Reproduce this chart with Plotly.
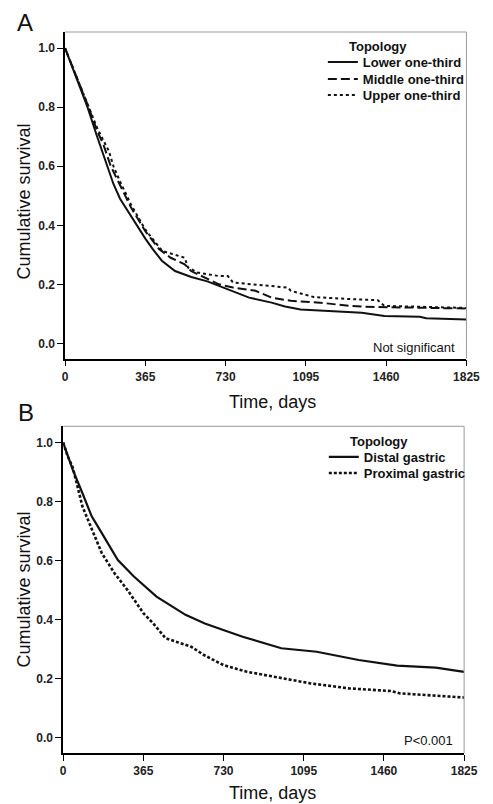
import plotly.graph_objects as go

# ---------------- data ----------------
x_ticks = [0, 365, 730, 1095, 1460, 1825]
y_ticks = [0.0, 0.2, 0.4, 0.6, 0.8, 1.0]
y_tick_labels = ["0.0", "0.2", "0.4", "0.6", "0.8", "1.0"]

# Panel A
a_lower_days = [0, 30, 73, 102, 146, 190, 220, 250, 300, 332, 365, 398, 440, 500, 574, 647, 700, 764, 837, 939, 1000, 1071, 1218, 1349, 1452, 1613, 1642, 1825]
a_lower_surv = [1.0, 0.94, 0.855, 0.80, 0.70, 0.60, 0.54, 0.49, 0.43, 0.39, 0.355, 0.32, 0.28, 0.245, 0.225, 0.21, 0.195, 0.178, 0.155, 0.138, 0.125, 0.115, 0.11, 0.104, 0.093, 0.09, 0.085, 0.081]

a_middle_days = [0, 30, 73, 102, 146, 176, 208, 249, 300, 365, 427, 480, 544, 573, 632, 700, 764, 866, 939, 1027, 1159, 1291, 1364, 1452, 1600, 1825]
a_middle_surv = [1.0, 0.945, 0.865, 0.81, 0.72, 0.67, 0.60, 0.54, 0.46, 0.38, 0.32, 0.29, 0.268, 0.245, 0.223, 0.20, 0.189, 0.178, 0.155, 0.144, 0.138, 0.127, 0.124, 0.123, 0.121, 0.118]

a_upper_days = [0, 30, 73, 102, 146, 176, 200, 220, 249, 300, 365, 442, 500, 544, 559, 603, 700, 740, 764, 900, 1013, 1027, 1130, 1300, 1422, 1452, 1600, 1825]
a_upper_surv = [1.0, 0.945, 0.87, 0.815, 0.73, 0.685, 0.65, 0.60, 0.55, 0.47, 0.385, 0.313, 0.30, 0.29, 0.257, 0.24, 0.228, 0.228, 0.206, 0.196, 0.189, 0.178, 0.157, 0.15, 0.146, 0.127, 0.125, 0.12]

# Panel B
b_distal_days = [0, 20, 44, 88, 130, 176, 249, 322, 425, 557, 645, 729, 817, 993, 1154, 1345, 1520, 1696, 1825]
b_distal_surv = [1.0, 0.96, 0.907, 0.828, 0.75, 0.693, 0.602, 0.546, 0.478, 0.416, 0.387, 0.365, 0.342, 0.303, 0.291, 0.263, 0.244, 0.237, 0.223]

b_proximal_days = [0, 20, 44, 66, 88, 132, 176, 234, 293, 366, 410, 466, 583, 641, 729, 832, 963, 1125, 1301, 1491, 1535, 1825]
b_proximal_surv = [1.0, 0.955, 0.915, 0.851, 0.783, 0.704, 0.625, 0.557, 0.50, 0.421, 0.387, 0.337, 0.308, 0.28, 0.246, 0.224, 0.207, 0.184, 0.167, 0.158, 0.15, 0.136]

# ---------------- figure ----------------
FONT = "Liberation Sans, Arial, Helvetica, sans-serif"
INK = "#111111"
W, H = 493, 804

def px_x(p):
    return p / W

def px_y(p):
    return (H - p) / H

fig = go.Figure()

fig.add_trace(go.Scatter(x=a_lower_days, y=a_lower_surv, mode="lines", name="Lower one-third",
                         line=dict(color=INK, width=2), xaxis="x", yaxis="y", legend="legend"))
fig.add_trace(go.Scatter(x=a_middle_days, y=a_middle_surv, mode="lines", name="Middle one-third",
                         line=dict(color=INK, width=2, dash="9px,4px"), xaxis="x", yaxis="y", legend="legend2"))
fig.add_trace(go.Scatter(x=a_upper_days, y=a_upper_surv, mode="lines", name="Upper one-third",
                         line=dict(color=INK, width=2, dash="3px,3px"), xaxis="x", yaxis="y", legend="legend3"))

fig.add_trace(go.Scatter(x=b_distal_days, y=b_distal_surv, mode="lines", name="Distal gastric",
                         line=dict(color=INK, width=2.2), xaxis="x2", yaxis="y2", legend="legend4"))
fig.add_trace(go.Scatter(x=b_proximal_days, y=b_proximal_surv, mode="lines", name="Proximal gastric",
                         line=dict(color=INK, width=2.6, dash="3px,2px"), xaxis="x2", yaxis="y2", legend="legend5"))

tickfont = dict(family=FONT, size=12, color="#222222", weight="bold")

def xaxis_cfg(domain, anchor):
    return dict(domain=domain, anchor=anchor, range=[0, 1825], tickvals=x_ticks,
                ticks="outside", ticklen=6, tickwidth=1, tickcolor="#000",
                showline=True, linecolor="#000", linewidth=1.5, showgrid=False,
                zeroline=False, tickfont=tickfont, fixedrange=True)

def yaxis_cfg(domain, anchor):
    return dict(domain=domain, anchor=anchor, range=[-0.052, 1.055], tickvals=y_ticks,
                ticktext=y_tick_labels, ticks="outside", ticklen=6, tickwidth=1,
                tickcolor="#000", showline=True, linecolor="#000", linewidth=1.5,
                showgrid=False, zeroline=False, tickfont=tickfont, fixedrange=True)

legend_font = dict(family=FONT, size=13, color=INK, weight="bold")

def legend_at(left_px, center_px):
    # first legend item centre sits ~15 px below the legend's top edge
    return dict(x=px_x(left_px), xanchor="left", y=px_y(center_px - 15), yanchor="top",
                bgcolor="rgba(0,0,0,0)", font=legend_font, itemwidth=30,
                tracegroupgap=0)

fig.update_layout(
    width=W, height=H,
    margin=dict(l=0, r=0, t=0, b=0),
    paper_bgcolor="white", plot_bgcolor="white",
    xaxis=xaxis_cfg([px_x(56), px_x(471.7)], "y"),
    yaxis=yaxis_cfg([px_y(350.7), px_y(24)], "x"),
    xaxis2=xaxis_cfg([px_x(54), px_x(469.3)], "y2"),
    yaxis2=yaxis_cfg([px_y(745), px_y(418.3)], "x2"),
    legend=legend_at(323, 54),
    legend2=legend_at(323, 71),
    legend3=legend_at(323, 87),
    legend4=legend_at(324, 449),
    legend5=legend_at(324, 465),
    showlegend=True,
)

# top/right gray frame lines
for xr, yr in (("x domain", "y domain"), ("x2 domain", "y2 domain")):
    fig.add_shape(type="line", xref=xr, yref=yr, x0=0, x1=1, y0=1, y1=1,
                  line=dict(color="#9a9a9a", width=1))
    fig.add_shape(type="line", xref=xr, yref=yr, x0=1, x1=1, y0=0, y1=1,
                  line=dict(color="#9a9a9a", width=1))

def ann(text, x, y, size, xanchor="center", yanchor="middle", angle=0, weight="normal"):
    fig.add_annotation(text=text, xref="paper", yref="paper", x=x, y=y,
                       xanchor=xanchor, yanchor=yanchor, showarrow=False,
                       textangle=angle,
                       font=dict(family=FONT, size=size, color=INK, weight=weight))

# panel letters
ann("A", px_x(14), px_y(15), 24)
ann("B", px_x(16), px_y(404), 24)
# axis titles
ann("Cumulative survival", px_x(13), px_y(194), 18, angle=-90)
ann("Cumulative survival", px_x(13), px_y(582), 18, angle=-90)
ann("Time, days", px_x(271), px_y(394), 18)
ann("Time, days", px_x(271), px_y(785), 18)
# legend headings
ann("Topology", px_x(380), px_y(39), 13, weight="bold")
ann("Topology", px_x(381), px_y(433), 13, weight="bold")
# significance notes
ann("Not significant", px_x(462), px_y(340), 13, xanchor="right")
ann("P<0.001", px_x(459.5), px_y(732), 13, xanchor="right")

fig.write_html("out.html")
